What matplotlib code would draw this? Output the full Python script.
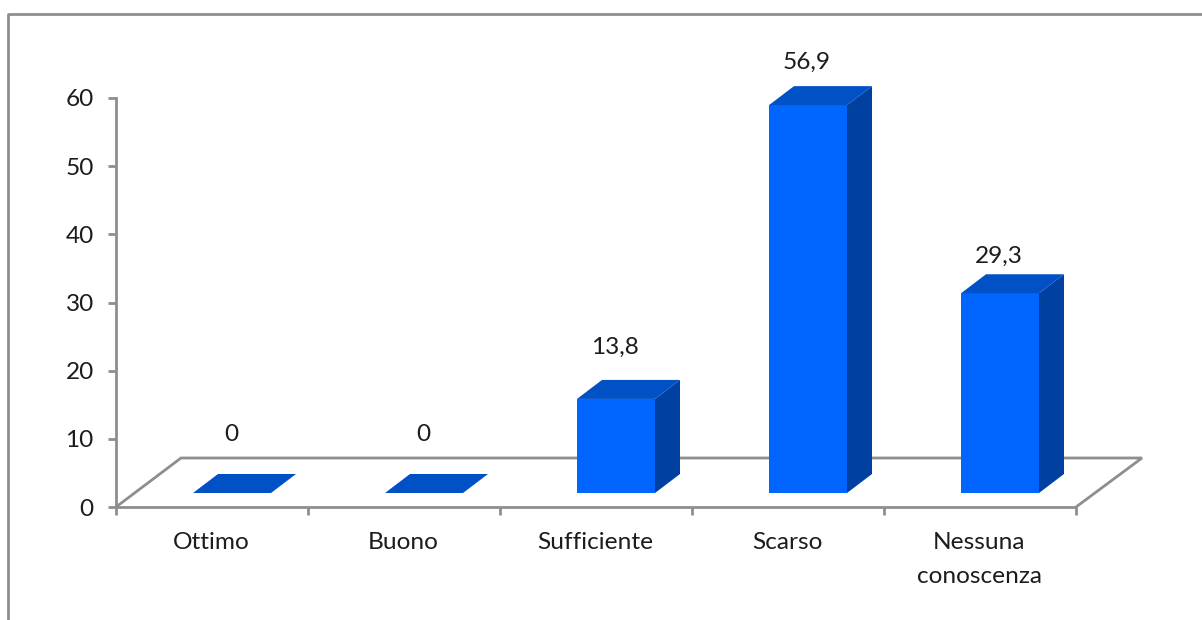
import matplotlib
matplotlib.use("Agg")
import matplotlib.pyplot as plt
from matplotlib.patches import Polygon

categories = ["Ottimo", "Buono", "Sufficiente", "Scarso", "Nessuna\nconoscenza"]
values = [0, 0, 13.8, 56.9, 29.3]
labels = ["0", "0", "13,8", "56,9", "29,3"]
yticks = [0, 10, 20, 30, 40, 50, 60]

# how far each value label sits above its bar, in value units
label_lift = [10.7, 10.7, 9.6, 8.4, 7.5]

W, H = 1202, 620
FRONT = "#0066ff"
TOP = "#0050c6"
SIDE = "#0040a0"
GREY = "#8e8e8e"
TEXT = "#1c1c1c"
LW = 2.0
FS = 17.6

plt.rcParams["font.family"] = ["Lato", "DejaVu Sans"]

fig = plt.figure(figsize=(W / 100, H / 100), dpi=100)

# outer chart border, only top and left are visible
fig.add_artist(plt.Line2D([8 / W, 8 / W, 1], [0, 1 - 14 / H, 1 - 14 / H], color=GREY, lw=LW))

ax = fig.add_axes([116 / W, 1 - 507 / H, 960 / W, 409 / H])
ax.set_xlim(0, 5)
ax.set_ylim(0, 60)
ax.patch.set_alpha(0)

# conversions from pixels to data units
px_x = 5 / 960
px_y = 60 / 409

# floor of the 3d box
floor_dx = 65 * px_x
floor_dy = 49 * px_y
ax.plot([0, floor_dx, 5 + floor_dx + 1 * px_x, 5], [0, floor_dy, floor_dy, 0],
        color=GREY, lw=LW, clip_on=False, zorder=1, solid_joinstyle="miter")

# bars
width = 78 * px_x
base = 14 * px_y
shift = 20 * px_x
dx = 25 * px_x
dy = 19 * px_y
for i, v in enumerate(values):
    left = i + 0.5 + shift - width / 2
    right = left + width
    top = base + v
    if v > 0:
        ax.bar(left, v, width=width, bottom=base, align="edge", color=FRONT, zorder=3, clip_on=False)
        ax.add_patch(Polygon([(right, base), (right + dx, base + dy), (right + dx, top + dy), (right, top)],
                             closed=True, facecolor=SIDE, edgecolor="none", zorder=3, clip_on=False))
    ax.add_patch(Polygon([(left, top), (left + dx, top + dy), (right + dx, top + dy), (right, top)],
                         closed=True, facecolor=TOP, edgecolor="none", zorder=3, clip_on=False))
    ax.text(i + 0.5 + 19 * px_x, v + label_lift[i], labels[i], ha="center", va="center",
            fontsize=FS, color=TEXT)

# axes
for s in ["top", "right"]:
    ax.spines[s].set_visible(False)
for s in ["left", "bottom"]:
    ax.spines[s].set_color(GREY)
    ax.spines[s].set_linewidth(LW)
ax.set_yticks(yticks)
ax.set_xticks(range(6))
ax.set_xticklabels([])
ax.set_xticks([i + 0.5 - 1 * px_x for i in range(5)], minor=True)
ax.set_xticklabels(categories, minor=True, fontsize=FS, color=TEXT, linespacing=1.75, va="top")
ax.tick_params(axis="y", length=6, width=LW, color=GREY, labelsize=FS, labelcolor=TEXT, pad=10)
ax.tick_params(axis="x", which="major", length=6, width=LW, color=GREY)
ax.tick_params(axis="x", which="minor", length=0, pad=18)

fig.savefig("out.png", dpi=100)
